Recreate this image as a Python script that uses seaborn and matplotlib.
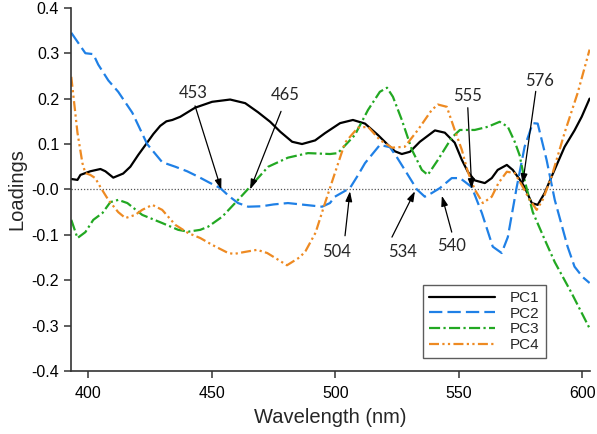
import numpy as np
import pandas as pd
import seaborn as sns
import matplotlib.pyplot as plt

# loadings
pc1_wl = [393.1, 395.6, 396.8, 400.8, 404.9, 406.9, 410.1, 414.1, 417.0, 420.2, 423.4, 426.3,
          429.1, 431.6, 434.0, 437.2, 443.2, 450.1, 457.4, 463.5, 468.7, 473.6, 477.7, 482.5,
          486.5, 491.8, 495.8, 501.9, 507.1, 512.0, 517.2, 521.3, 524.1, 526.9, 530.2, 534.2,
          540.3, 544.3, 548.3, 551.2, 553.6, 556.4, 560.5, 563.3, 565.7, 569.4, 571.8, 574.6,
          576.6, 579.5, 581.9, 584.7, 587.5, 592.8, 596.8, 599.7, 602.9]
pc1_val = [0.023, 0.021, 0.032, 0.040, 0.045, 0.040, 0.026, 0.035, 0.050, 0.076, 0.100, 0.122,
           0.140, 0.150, 0.153, 0.160, 0.180, 0.193, 0.198, 0.190, 0.170, 0.149, 0.127, 0.105,
           0.100, 0.108, 0.124, 0.146, 0.153, 0.145, 0.120, 0.098, 0.084, 0.078, 0.083, 0.105,
           0.130, 0.125, 0.103, 0.065, 0.039, 0.020, 0.014, 0.025, 0.043, 0.054, 0.043, 0.022,
           0.005, -0.030, -0.034, -0.008, 0.028, 0.094, 0.130, 0.160, 0.200]

pc2_wl = [393.1, 398.8, 402.0, 404.0, 408.1, 412.1, 417.8, 423.8, 429.9, 435.2, 440.0, 444.5,
          449.0, 453.4, 457.0, 460.6, 464.7, 470.3, 475.0, 480.8, 487.7, 494.6, 497.8, 499.8,
          505.9, 509.0, 512.0, 518.0, 522.1, 525.0, 528.1, 533.0, 536.2, 539.0, 542.3, 547.1,
          550.4, 552.4, 555.2, 559.3, 563.7, 567.3, 569.8, 573.4, 576.6, 579.9, 581.9, 585.5,
          588.8, 594.0, 596.8, 600.1, 602.9]
pc2_val = [0.345, 0.300, 0.298, 0.275, 0.240, 0.215, 0.169, 0.100, 0.060, 0.050, 0.040, 0.028,
           0.015, 0.003, -0.015, -0.030, -0.038, -0.037, -0.033, -0.030, -0.034, -0.038, -0.030, -0.016,
           0.003, 0.030, 0.058, 0.098, 0.093, 0.070, 0.043, 0.000, -0.016, -0.008, 0.003, 0.025,
           0.025, 0.017, 0.005, -0.052, -0.126, -0.140, -0.105, 0.005, 0.094, 0.146, 0.145, 0.065,
           -0.023, -0.126, -0.170, -0.193, -0.206]

pc3_wl = [393.1, 395.6, 398.8, 402.0, 405.7, 408.9, 412.1, 415.8, 421.8, 429.9, 436.4, 440.4,
          445.3, 448.5, 454.2, 459.4, 465.5, 472.8, 480.8, 488.9, 497.8, 501.0, 507.9, 513.2,
          518.0, 520.9, 523.3, 526.9, 531.0, 535.0, 537.4, 541.5, 547.1, 550.4, 556.4, 561.7,
          566.5, 569.8, 572.6, 574.6, 576.6, 579.9, 584.7, 588.8, 595.6, 602.9]
pc3_val = [-0.067, -0.107, -0.094, -0.067, -0.052, -0.028, -0.023, -0.030, -0.056, -0.074, -0.089, -0.093,
           -0.089, -0.082, -0.060, -0.030, 0.006, 0.050, 0.070, 0.080, 0.078, 0.080, 0.120, 0.175,
           0.215, 0.224, 0.204, 0.153, 0.087, 0.043, 0.032, 0.065, 0.114, 0.131, 0.131, 0.138,
           0.149, 0.138, 0.105, 0.075, 0.020, -0.050, -0.110, -0.160, -0.228, -0.306]

pc4_wl = [393.1, 395.6, 397.6, 398.8, 400.8, 402.8, 404.9, 408.1, 412.1, 415.0, 419.0, 421.8,
          425.9, 429.9, 435.2, 440.4, 445.3, 450.1, 456.6, 459.0, 464.0, 468.3, 472.4, 476.0,
          480.4, 485.7, 488.0, 492.0, 495.8, 499.8, 503.9, 509.1, 513.2, 518.0, 522.9, 528.1,
          533.4, 539.0, 541.5, 545.1, 548.3, 551.2, 553.6, 556.4, 559.7, 563.3, 566.0, 569.4,
          572.6, 575.8, 578.7, 581.5, 583.9, 587.5, 592.8, 598.1, 602.9]
pc4_val = [0.248, 0.125, 0.058, 0.036, 0.032, 0.025, 0.005, -0.023, -0.050, -0.063, -0.056, -0.045,
           -0.034, -0.045, -0.078, -0.096, -0.107, -0.122, -0.140, -0.142, -0.137, -0.133, -0.140, -0.152,
           -0.167, -0.149, -0.135, -0.095, -0.030, 0.036, 0.103, 0.136, 0.138, 0.109, 0.092, 0.094,
           0.131, 0.175, 0.187, 0.182, 0.131, 0.087, 0.039, 0.000, -0.030, -0.016, 0.014, 0.039,
           0.036, 0.006, -0.023, -0.045, -0.023, 0.028, 0.125, 0.213, 0.308]

# wavelength labels: text, text position, arrow start, arrow tip
ann_text = ['453', '465', '504', '534', '540', '555', '576']
ann_text_xy = [(442.4, 0.213), (479.6, 0.207), (500.6, -0.137), (527.3, -0.138),
               (547.1, -0.124), (553.6, 0.206), (582.7, 0.238)]
ann_start = [(443.2, 0.184), (478.0, 0.172), (503.9, -0.102), (522.9, -0.105),
             (547.1, -0.094), (553.6, 0.180), (581.1, 0.216)]
ann_tip = [(453.8, 0.0), (465.5, 0.0), (505.9, -0.004), (532.2, -0.004),
           (543.1, -0.014), (555.2, 0.001), (575.8, 0.012)]

frames = []
for name, wl, val in [('PC1', pc1_wl, pc1_val), ('PC2', pc2_wl, pc2_val),
                      ('PC3', pc3_wl, pc3_val), ('PC4', pc4_wl, pc4_val)]:
    frames.append(pd.DataFrame({'wl': wl, 'val': val, 'pc': name}))
df = pd.concat(frames, ignore_index=True)

sns.set_style('ticks')
plt.rcParams['font.family'] = ['Liberation Sans', 'DejaVu Sans']

fig = plt.figure(figsize=(5.97, 4.34), dpi=100)
ax = fig.add_axes([0.119, 0.145, 0.869, 0.837])

palette = {'PC1': '#000000', 'PC2': '#1f80e6', 'PC3': '#22a822', 'PC4': '#ee8a22'}
dashes = {'PC1': '', 'PC2': (6, 2.3), 'PC3': (5, 1.5, 1, 1.5), 'PC4': (4.5, 1.5, 1, 1.5, 1, 1.5)}

ax.axhline(0, color='#555555', lw=0.9, ls=(0, (1, 1.5)), zorder=1)

sns.lineplot(data=df, x='wl', y='val', hue='pc', style='pc', palette=palette,
             dashes=dashes, estimator=None, sort=False, lw=1.6, ax=ax)

for t, txy, s, tip in zip(ann_text, ann_text_xy, ann_start, ann_tip):
    ax.text(txy[0], txy[1], t, ha='center', va='center', fontsize=12, family=['Lato', 'DejaVu Sans'])
    ax.annotate('', xy=tip, xytext=s,
                arrowprops=dict(arrowstyle='-|>,head_length=0.6,head_width=0.2', color='black',
                                lw=0.9, shrinkA=0, shrinkB=0, mutation_scale=10))

handles, labels = ax.get_legend_handles_labels()
leg = ax.legend(handles, labels, loc='lower left', bbox_to_anchor=(0.678, 0.036),
                borderaxespad=0, fontsize=11, frameon=True, fancybox=False, edgecolor='#333333',
                handlelength=4.3, handletextpad=1.0, labelspacing=0.1, borderpad=0.4)
leg.get_frame().set_linewidth(1.0)

ax.set_xlim(393, 603)
ax.set_ylim(-0.4, 0.4)
ax.set_xticks([400, 450, 500, 550, 600])
ax.set_yticks(np.arange(-0.4, 0.41, 0.1))
ax.set_yticklabels([f'{v:.1f}' for v in np.arange(-0.4, 0.41, 0.1)])
ax.tick_params(labelsize=11.5, length=5, width=1.1, colors='#333333', labelcolor='black')
ax.tick_params(axis='x', pad=6)
for sp in ['left', 'bottom']:
    ax.spines[sp].set_linewidth(1.2)
    ax.spines[sp].set_color('#333333')
sns.despine(ax=ax)

ax.set_xlabel('Wavelength (nm)', fontsize=14.5, labelpad=5)
ax.set_ylabel('Loadings', fontsize=14.5, labelpad=4)

fig.savefig('out.png', dpi=100)
